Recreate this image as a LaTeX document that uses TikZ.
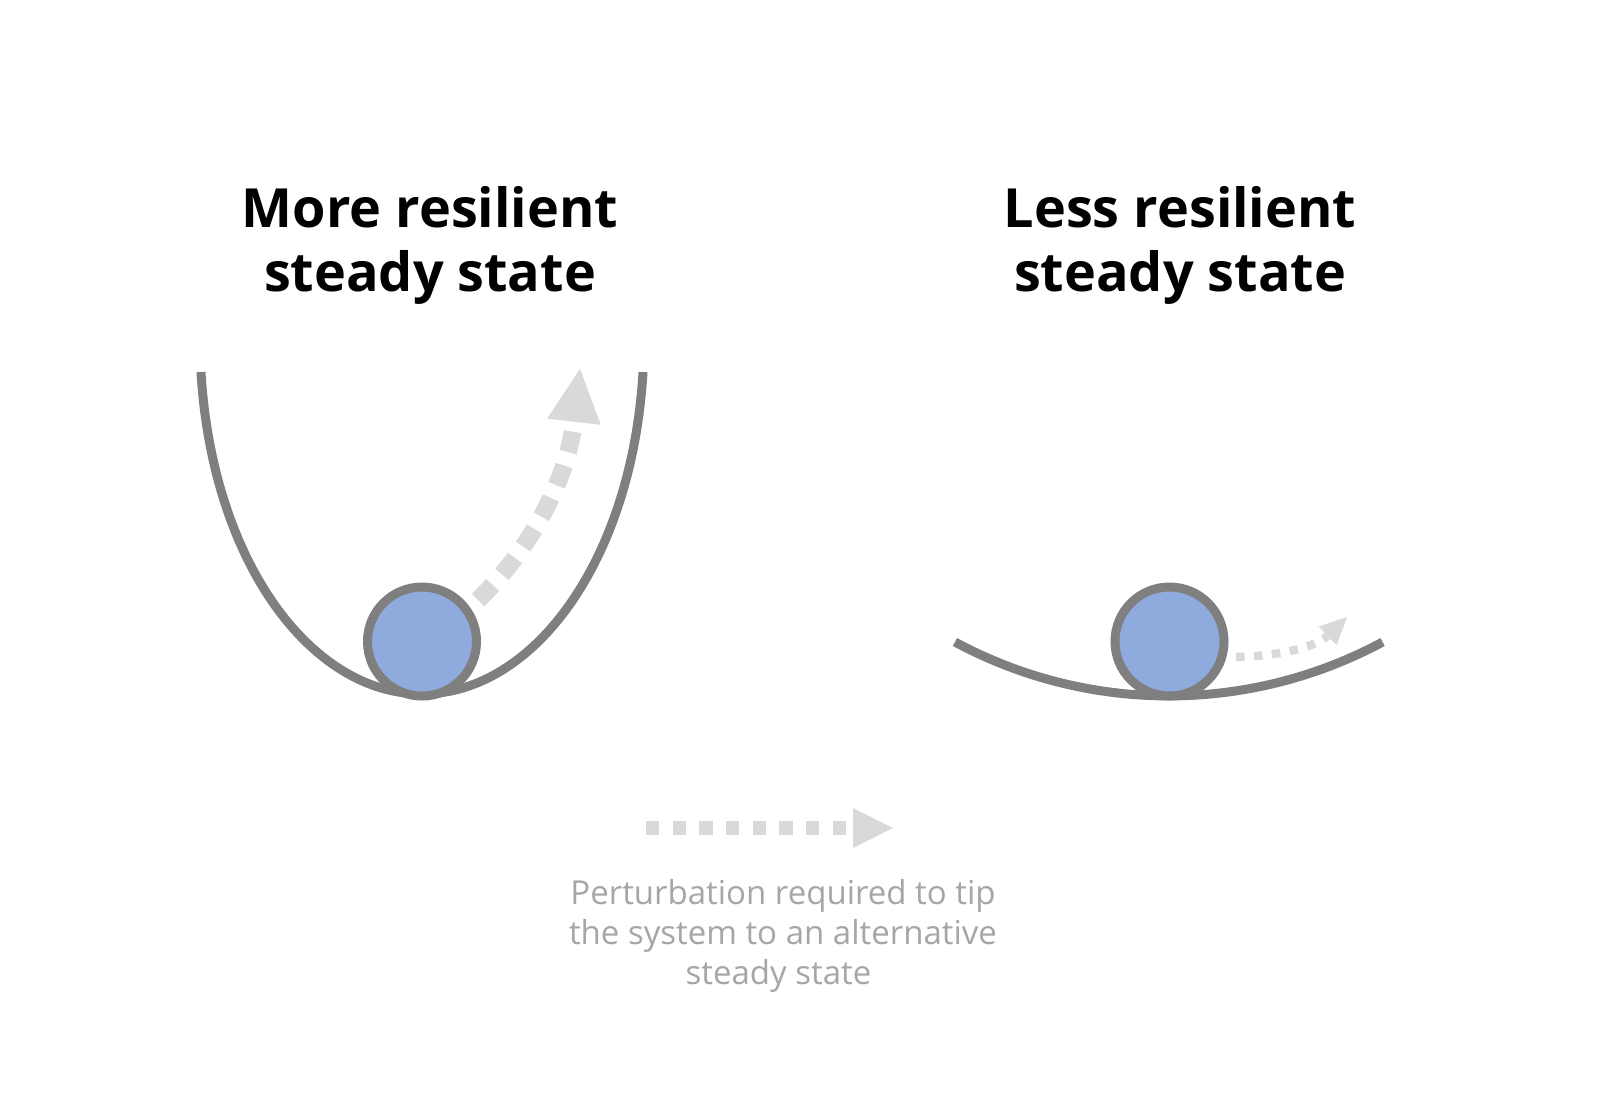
\documentclass[tikz,border=0pt]{standalone}
\usepackage{fontspec}
\setmainfont{Open Sans}
\usetikzlibrary{arrows.meta}
\definecolor{curvegray}{HTML}{7F7F7F}
\definecolor{ballblue}{HTML}{8FAADC}
\definecolor{dashgray}{HTML}{D9D9D9}
\definecolor{textgray}{HTML}{A6A6A6}
\pgfdeclarelayer{paper}
\pgfdeclarelayer{bg}
\pgfsetlayers{paper,bg,main}
\begin{document}
\begin{tikzpicture}[x=0.5pt,y=-0.5pt,
  valley/.style={draw=curvegray, line width=4.5pt},
  ball/.style={circle, draw=curvegray, fill=ballblue, line width=4.5pt, minimum size=54.5pt, inner sep=0pt},
  titletext/.style={font=\bfseries\fontsize{27}{32}\selectfont, align=center, text=black},
  notetext/.style={font=\fontsize{16.5}{20}\selectfont, align=center, text=textgray},
  bigpush/.style={draw=dashgray, line width=8.8pt, dash pattern=on 10.5pt off 7pt,
    -{Triangle[length=26.5pt, width=27pt, line width=0pt]}},
  smallpush/.style={draw=dashgray, line width=4.2pt, dash pattern=on 4.25pt off 4.75pt, dash phase=4.25pt,
    -{Triangle[length=13.5pt, width=13pt, line width=0pt]}},
  keypush/.style={draw=dashgray, line width=6.6pt, dash pattern=on 6.67pt off 6.67pt,
    -{Triangle[length=20pt, width=20pt, line width=0pt]}}
]
\begin{pgfonlayer}{paper}
\useasboundingbox[fill=white] (0,0) rectangle (1599,1116);
\end{pgfonlayer}

\node[titletext] (t1) at (430,245.5) {More resilient\\steady state};
\node[titletext] (t2) at (1180,245.5) {Less resilient\\steady state};

\draw[valley] (201,372) .. controls (212,560) and (310,694) .. (422,694)
  .. controls (534,694) and (632,560) .. (643,372);
\draw[valley] (955,642) arc[start angle=118.3, end angle=61.7, radius=451];

\node[ball] (lb) at (422,641.5) {};
\node[ball] (rb) at (1169.5,641.5) {};

\coordinate (lt) at (580,369);
\coordinate (rt) at (1347,617);
\begin{pgfonlayer}{bg}
\draw[bigpush] (lb.center) .. controls (500,600) and (565,500) .. (lt);
\draw[smallpush] (rb.-15) .. controls (1270,658) and (1315,648) .. (rt);
\end{pgfonlayer}

\coordinate (ks) at (646,828);
\coordinate (ke) at (893,828);
\draw[keypush] (ks) -- (ke);

\node[notetext] (nt) at (783,936) {Perturbation required to tip\\the system to an alternative\\steady state\hspace*{4.5pt}};
\end{tikzpicture}
\end{document}
